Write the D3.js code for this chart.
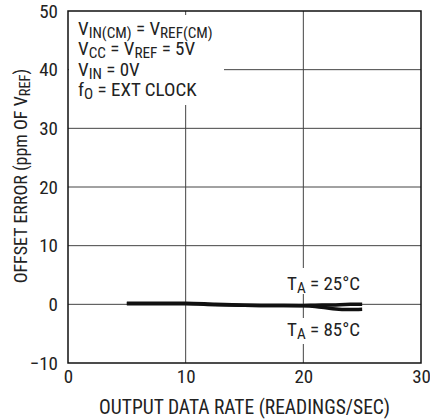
<!DOCTYPE html>
<html><head><meta charset="utf-8">
<script src="https://cdn.jsdelivr.net/npm/d3@7"></script>
<style>
body{margin:0;background:#fff;}
text{font-family:"Roboto Condensed","Liberation Sans Narrow",sans-serif;fill:#222;}
</style></head><body>
<svg id="c" width="430" height="420"></svg>
<script>
const xTicks=[0,10,20,30];
const yTicks=[-10,0,10,20,30,40,50];
const rateX=[5,7.5,10,12.5,15,17.5,20,21,22.5,24,25];
const t25=[0.2,0.2,0.2,0.0,-0.15,-0.2,-0.2,-0.15,-0.1,0,0];
const t85=[0.1,0.1,0.1,-0.05,-0.15,-0.2,-0.25,-0.35,-0.75,-0.9,-0.85];

const FONT='"Roboto Condensed","Liberation Sans Narrow",sans-serif';
const svg=d3.select("#c");
const L=68,R=421,T=11,B=363;
const x=d3.scaleLinear().domain([0,30]).range([L,R]);
const y=d3.scaleLinear().domain([-10,50]).range([B,T]);
const g=svg.append("g");
g.selectAll(".gx").data(xTicks.slice(1,-1)).join("line")
 .attr("x1",d=>x(d)).attr("x2",d=>x(d)).attr("y1",T).attr("y2",B)
 .attr("stroke","#444").attr("stroke-width",1);
g.selectAll(".gy").data(yTicks.slice(1,-1)).join("line")
 .attr("y1",d=>y(d)).attr("y2",d=>y(d)).attr("x1",L).attr("x2",R)
 .attr("stroke","#444").attr("stroke-width",1);
g.append("rect").attr("x",L+1).attr("y",T+4).attr("width",155).attr("height",90).attr("fill","#fff");
g.append("rect").attr("x",284).attr("y",268).attr("width",80).attr("height",26).attr("fill","#fff");
g.append("rect").attr("x",284).attr("y",318).attr("width",80).attr("height",26).attr("fill","#fff");
g.append("rect").attr("x",L).attr("y",T).attr("width",R-L).attr("height",B-T)
 .attr("fill","none").attr("stroke","#111").attr("stroke-width",1.5);
const ax=d3.axisBottom(x).tickValues(xTicks).tickSize(0).tickPadding(7).tickFormat(d3.format("d"));
const axG=svg.append("g").attr("transform",`translate(0,${B})`).call(ax);
axG.select(".domain").remove();
axG.selectAll("text").attr("font-size",19).attr("fill","#222").style("font-family",FONT);
const ay=d3.axisLeft(y).tickValues(yTicks).tickSize(0).tickPadding(10)
 .tickFormat(d=>d<0?"\u2212"+Math.abs(d):d);
const ayG=svg.append("g").attr("transform",`translate(${L},0)`).call(ay);
ayG.select(".domain").remove();
ayG.selectAll("text").attr("font-size",19).attr("fill","#222").style("font-family",FONT);
const line=d3.line().x((d,i)=>x(rateX[i])).y(d=>y(d)).curve(d3.curveMonotoneX);
svg.append("path").attr("d",line(t85)).attr("fill","none").attr("stroke","#111").attr("stroke-width",3.5);
svg.append("path").attr("d",line(t25)).attr("fill","none").attr("stroke","#111").attr("stroke-width",3.5);
function rich(x0,yb,parts,fs){
  const t=svg.append("text").attr("x",x0).attr("y",yb).attr("font-size",fs);
  let sub=false;
  parts.forEach(p=>{
    const isSub=Array.isArray(p);
    const s=t.append("tspan").text(isSub?p[0]:p);
    if(isSub){s.attr("font-size",fs*0.8).attr("dy",sub?0:3);}
    else if(sub){s.attr("dy",-3);}
    sub=isSub;
  });
  return t;
}
rich(78,35,["V",["IN(CM)"]," = V",["REF(CM)"]],19);
rich(78,55,["V",["CC"]," = V",["REF"]," = 5V"],19);
rich(78,76,["V",["IN"]," = 0V"],19);
rich(78,96,["f",["O"]," = EXT CLOCK"],19);
rich(287,290,["T",["A"]," = 25\u00b0C"],19);
rich(287,336,["T",["A"]," = 85\u00b0C"],19);
svg.append("text").attr("x",(L+R)/2).attr("y",414).attr("text-anchor","middle").attr("font-size",19.5)
 .text("OUTPUT DATA RATE (READINGS/SEC)");
const yt=svg.append("text").attr("transform",`translate(27,176) rotate(-90)`).attr("text-anchor","middle").attr("font-size",18);
yt.append("tspan").text("OFFSET ERROR (ppm OF V");
yt.append("tspan").attr("font-size",14.5).attr("dy",3).text("REF");
yt.append("tspan").attr("dy",-3).text(")");
</script></body></html>
